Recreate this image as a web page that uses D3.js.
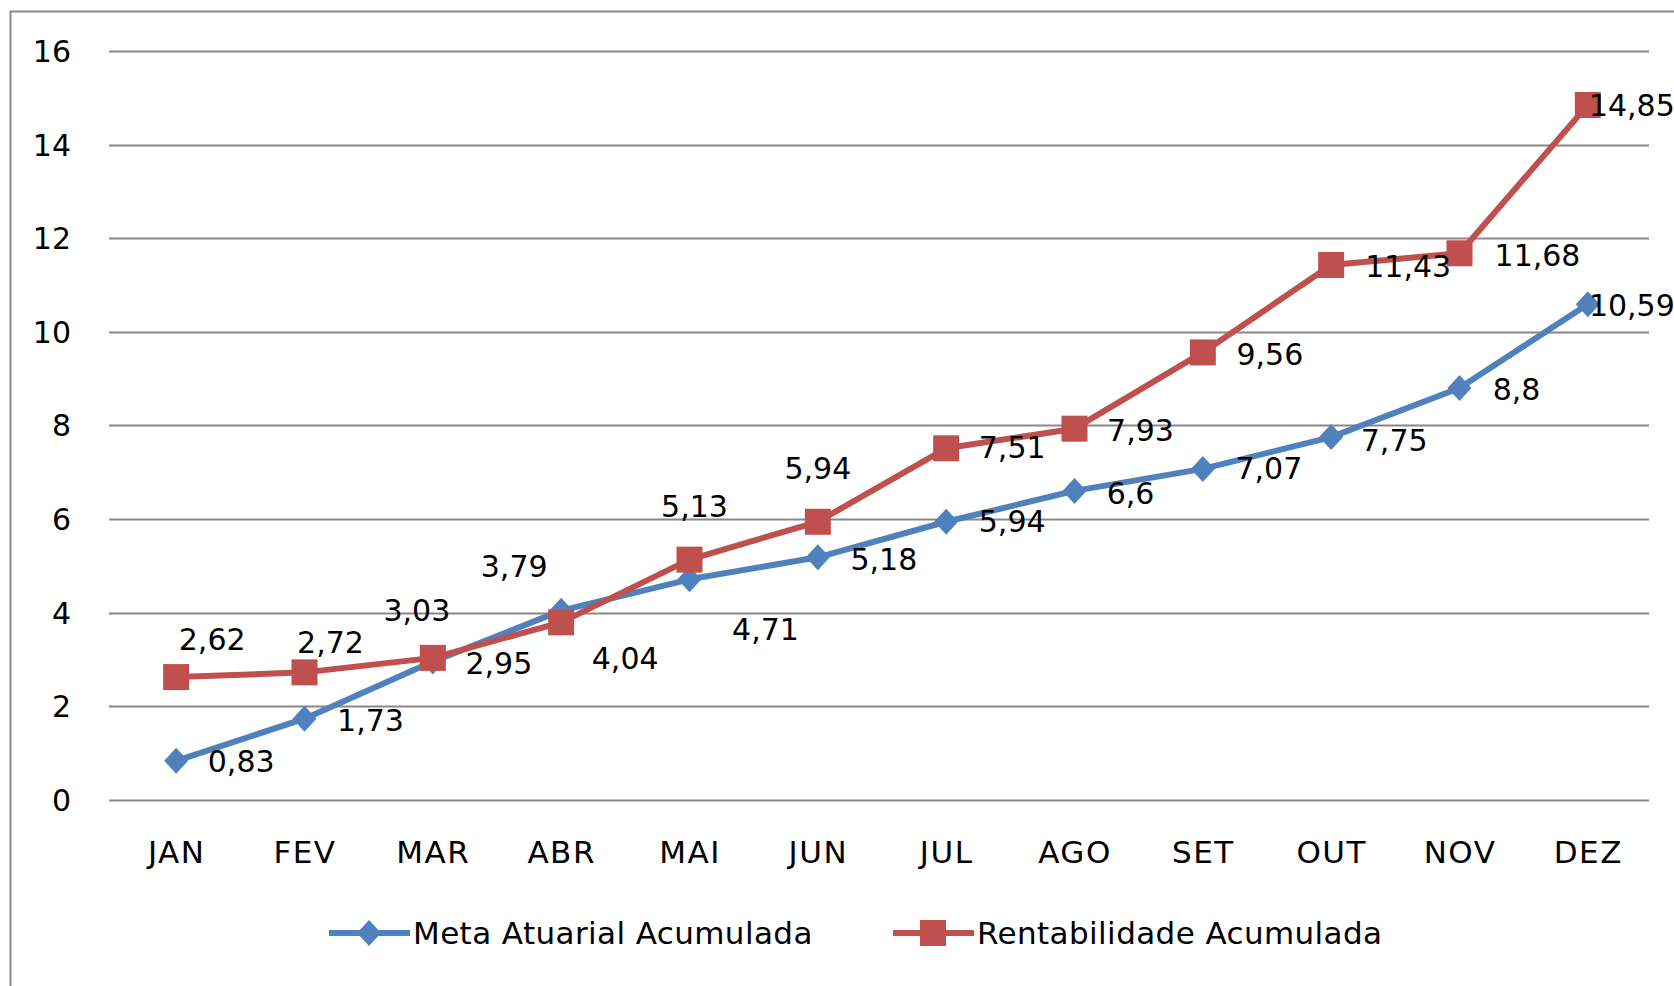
<!DOCTYPE html>
<html>
<head>
<meta charset="utf-8">
<script src="https://cdn.jsdelivr.net/npm/d3@7"></script>
<style>
  body { margin: 0; background: #fff; }
  svg { display: block; font-family: "DejaVu Sans", sans-serif; }
</style>
</head>
<body>
<div id="chart"></div>
<script>
// months on the x axis
var months = ['JAN', 'FEV', 'MAR', 'ABR', 'MAI', 'JUN', 'JUL', 'AGO', 'SET', 'OUT', 'NOV', 'DEZ'];
var metaAtuarial = [0.83, 1.73, 2.95, 4.04, 4.71, 5.18, 5.94, 6.6, 7.07, 7.75, 8.8, 10.59];
var rentabilidade = [2.62, 2.72, 3.03, 3.79, 5.13, 5.94, 7.51, 7.93, 9.56, 11.43, 11.68, 14.85];
var yTicks = [0, 2, 4, 6, 8, 10, 12, 14, 16];
var seriesNames = ['Meta Atuarial Acumulada', 'Rentabilidade Acumulada'];

// label nudges (px, label centre relative to the point), excel-style manual placement
var metaLabelNudge = [[65, 1], [66, 2], [66, 2], [64, 48], [76, 50], [66, 2],
                      [66, 0], [56, 3], [66, 0], [63, 3], [57, 2], [44, 1]];
var rentLabelNudge = [[36, -38], [26, -30], [-16, -47], [-47, -56], [5, -53], [0, -53],
                      [66, -1], [66, 2], [67, 2], [77, 2], [78, 2], [44, 1]];

var W = 1674, H = 986;
var blue = '#4f81bd', red = '#c0504d', grid = '#898789';
var fontSize = 30;

function fmt(v) { return String(v).replace('.', ','); }

function ready() {
  var svg = d3.select('#chart').append('svg')
    .attr('width', W).attr('height', H);

  // outer chart border (cut off on right and bottom)
  svg.append('rect')
    .attr('x', 10.5).attr('y', 11.5)
    .attr('width', W + 20).attr('height', H + 20)
    .attr('fill', 'none').attr('stroke', grid).attr('stroke-width', 2);

  var x = d3.scalePoint().domain(months).range([112, 1652]).padding(0.5);
  var y = d3.scaleLinear().domain([0, 16]).range([799.6, 51.2]);

  // gridlines
  svg.append('g').selectAll('line').data(yTicks).join('line')
    .attr('x1', 109).attr('x2', 1649)
    .attr('y1', function(d) { return Math.round(y(d)) + 0.5; })
    .attr('y2', function(d) { return Math.round(y(d)) + 0.5; })
    .attr('stroke', grid).attr('stroke-width', 2);

  // y axis labels
  var yAxis = d3.axisLeft(y).tickValues(yTicks).tickSize(0).tickPadding(0);
  var ga = svg.append('g').attr('transform', 'translate(71,0)').call(yAxis);
  ga.select('.domain').remove();
  ga.selectAll('text').attr('font-size', fontSize).attr('fill', '#000')
    .attr('font-family', '"DejaVu Sans", sans-serif').attr('dy', '0.35em');

  // x axis labels
  var xAxis = d3.axisBottom(x).tickSize(0).tickPadding(0);
  var gx = svg.append('g').attr('transform', 'translate(0,852)').call(xAxis);
  gx.select('.domain').remove();
  gx.selectAll('text').attr('font-size', 31).attr('fill', '#000')
    .attr('letter-spacing', 1.5)
    .attr('font-family', '"DejaVu Sans", sans-serif').attr('dy', '0.35em');

  var line = d3.line()
    .x(function(d, i) { return x(months[i]); })
    .y(function(d) { return y(d); });

  var diamond = 'M0,-13L12,0L0,13L-12,0Z';

  svg.append('path').datum(metaAtuarial).attr('d', line)
    .attr('fill', 'none').attr('stroke', blue).attr('stroke-width', 6).attr('stroke-linejoin', 'round');
  svg.append('path').datum(rentabilidade).attr('d', line)
    .attr('fill', 'none').attr('stroke', red).attr('stroke-width', 6).attr('stroke-linejoin', 'round');

  svg.append('g').selectAll('path').data(metaAtuarial).join('path')
    .attr('d', diamond)
    .attr('transform', function(d, i) { return 'translate(' + x(months[i]) + ',' + y(d) + ')'; })
    .attr('fill', blue);

  svg.append('g').selectAll('rect').data(rentabilidade).join('rect')
    .attr('x', function(d, i) { return x(months[i]) - 13; })
    .attr('y', function(d) { return y(d) - 13; })
    .attr('width', 26).attr('height', 26)
    .attr('fill', red);

  function labelAttrs(sel, nudge) {
    sel.attr('x', function(d, i) { return x(months[i]) + nudge[i][0]; })
      .attr('y', function(d, i) { return y(d) + nudge[i][1]; })
      .attr('text-anchor', 'middle')
      .attr('dy', '0.35em')
      .attr('font-size', fontSize)
      .attr('fill', '#000')
      .text(function(d) { return fmt(d); });
  }

  svg.append('g').selectAll('text').data(metaAtuarial).join('text')
    .call(labelAttrs, metaLabelNudge);
  svg.append('g').selectAll('text').data(rentabilidade).join('text')
    .call(labelAttrs, rentLabelNudge);

  // legend
  var legY = 933;
  var leg = svg.append('g');
  var items = [
    { name: seriesNames[0], color: blue, x0: 329, sym: 'diamond' },
    { name: seriesNames[1], color: red, x0: 893, sym: 'square' }
  ];
  items.forEach(function(it) {
    leg.append('line')
      .attr('x1', it.x0).attr('x2', it.x0 + 81)
      .attr('y1', legY).attr('y2', legY)
      .attr('stroke', it.color).attr('stroke-width', 6);
    if (it.sym == 'diamond') {
      leg.append('path').attr('d', diamond)
        .attr('transform', 'translate(' + (it.x0 + 40) + ',' + legY + ')')
        .attr('fill', it.color);
    } else {
      leg.append('rect').attr('x', it.x0 + 27).attr('y', legY - 13)
        .attr('width', 26).attr('height', 26).attr('fill', it.color);
    }
    leg.append('text')
      .attr('x', it.x0 + 84).attr('y', legY).attr('dy', '0.35em')
      .attr('font-size', 31).attr('letter-spacing', 0.4).attr('fill', '#000')
      .text(it.name);
  });
}

ready();
</script>
</body>
</html>
